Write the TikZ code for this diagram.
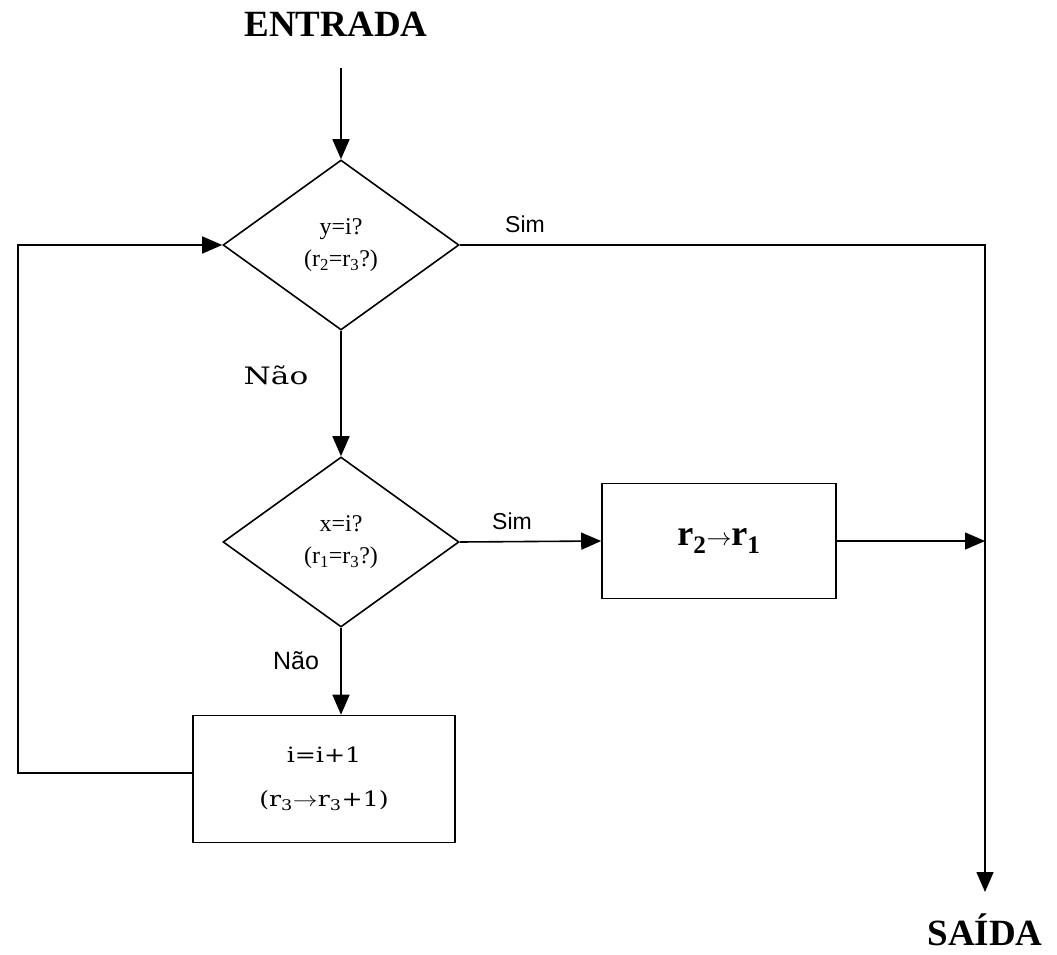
\documentclass[tikz,border=0pt]{standalone}
\usepackage{fontspec}
\setmainfont{Liberation Serif}
\setsansfont{Liberation Sans}
\newfontfamily\wideserif{DejaVu Serif}
\usetikzlibrary{shapes.geometric,arrows.meta}
\tikzset{
  line/.style={draw=black, line width=1.6pt},
  arr/.style={line, -{Triangle[length=20pt,width=17pt]}},
  decision/.style={diamond, line, minimum width=236pt, minimum height=170pt,
    inner sep=0pt, align=center, font=\fontsize{24}{32}\selectfont},
  process/.style={rectangle, line, inner sep=0pt, align=center},
  title/.style={font=\fontsize{37}{40}\selectfont\bfseries},
  simlabel/.style={font=\sffamily\fontsize{23}{26}\selectfont},
}
\newcommand{\wide}[1]{\scalebox{1.2}[1]{#1}}
\begin{document}
\begin{tikzpicture}[x=1pt,y=-1pt]
\useasboundingbox (0,0) rectangle (1057,955);

% terminals
\node[title, anchor=base] (entrada) at (336,37) {ENTRADA};
\coordinate (start) at (341,68);
\coordinate (exit) at (985,892);
\node[title, anchor=base] (saida) at (985,945) {SAÍDA};

% decisions
\node[decision] (d1) at (341,245) {y=i?\\(r\textsubscript{2}=r\textsubscript{3}?)};
\node[decision] (d2) at (341,542) {x=i?\\(r\textsubscript{1}=r\textsubscript{3}?)};

% processes
\node[process, minimum width=234pt, minimum height=115pt,
      font=\fontsize{36}{40}\selectfont\bfseries] (b1) at (719,541)
      {r\textsubscript{2}$\rightarrow$r\textsubscript{1}};
\node[process, minimum width=262pt, minimum height=127pt,
      font=\wideserif\fontsize{21}{44}\selectfont] (b2) at (324,779)
      {\wide{i=i+1}\\\wide{(r\textsubscript{3}$\rightarrow$r\textsubscript{3}+1)}};
\coordinate (loop) at (18,773);

% connectors
\draw[arr] (start) -- (d1.north);
\draw[arr] (d1.south) -- (d2.north);
\draw[arr] (d2.south) -- (d2.south |- b2.north);
\draw[arr] (d2.east) -- (b1.west);
\draw[arr] (d1.east) -| (exit);
\draw[arr] (b1.east) -- (b1.east -| exit);
\draw[arr] (b2.west |- loop) -- (loop) |- (d1.west);

% branch labels
\node[simlabel] (sim1) at (525,224) {Sim};
\node[simlabel] (sim2) at (512,521) {Sim};
\node[font=\wideserif\fontsize{24}{28}\selectfont] (nao1) at (276,375) {\scalebox{1.3}[1]{Não}};
\node[font=\sffamily\fontsize{25}{28}\selectfont] (nao2) at (296,661) {Não};
\end{tikzpicture}
\end{document}
